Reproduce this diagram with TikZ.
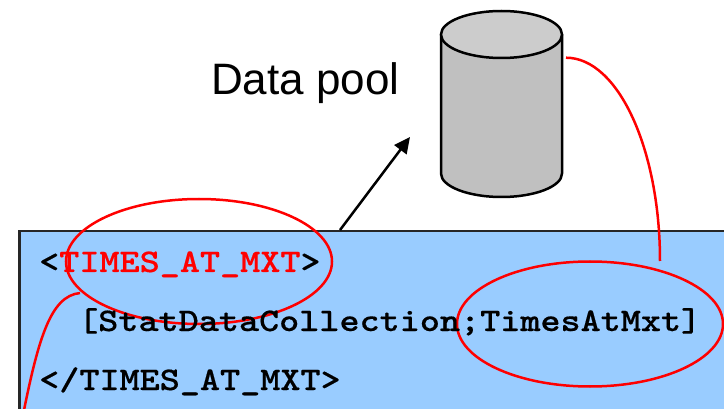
\documentclass[tikz,border=0pt]{standalone}
\usepackage{fontspec}
\usetikzlibrary{shapes.geometric,arrows.meta}
\newfontfamily\arialfont{Liberation Sans}
\newfontfamily\courfont[FakeStretch=1.16,BoldFeatures={FakeBold=0.35}]{Latin Modern Mono Light}
\definecolor{boxblue}{HTML}{99CCFF}
\definecolor{cylbody}{HTML}{C0C0C0}
\definecolor{cyltop}{HTML}{CCCCCC}
\definecolor{redline}{HTML}{FF0000}
\tikzset{
  panel/.style={draw=black!85,line width=2.5pt,fill=boxblue,rectangle,anchor=north west,inner sep=0pt,minimum width=760pt,minimum height=220pt},
  code/.style={anchor=base west,inner sep=0pt,font=\courfont\bfseries\fontsize{33pt}{33pt}\selectfont},
  ring/.style={draw=redline,line width=2.5pt,ellipse,inner sep=0pt,minimum width=266pt,minimum height=125pt},
  link/.style={draw=redline,line width=2.5pt},
  flow/.style={draw=black,line width=2.5pt,-{Triangle[length=16pt,width=15pt]},shorten >=0pt},
  title/.style={anchor=base west,inner sep=0pt,font=\arialfont\fontsize{44pt}{44pt}\selectfont}
}
\begin{document}
\begin{tikzpicture}[x=1pt,y=-1pt]
\useasboundingbox (0,0) rectangle (724,409);
\clip (0,0) rectangle (724,409);
\fill[white] (0,0) rectangle (724,409);
% cylinder
\draw[fill=cylbody,line width=2.5pt,line join=round] (441,34.5) -- (441,173.5) arc[start angle=180,end angle=0,x radius=60.5,y radius=23.5] -- (562,34.5);
\draw[fill=cyltop,line width=2.5pt] (501.5,34.5) ellipse[x radius=60.5,y radius=23.5];
\node[title] (pool) at (211,95) {Data pool};
% panel
\node[panel] (panel) at (18,230) {};
\coordinate (panelexit) at (340,230);
\coordinate (arrowtip) at (410,137);
\draw[flow] (panelexit) -- (arrowtip);
% rings
\node[ring] (ringa) at (199,261.5) {};
\node[ring] (ringb) at (590,324) {};
% text
\node[code] (l1a) at (39,272) {<\textcolor{redline}{TIMES\_AT\_MXT}>};
\node[code] (l2) at (78,331) {[StatDataCollection;TimesAtMxt]};
\node[code] (l3) at (39,390) {</TIMES\_AT\_MXT>};
% links
\coordinate (cylout) at (566,57.7);
\coordinate (ringbtop) at (660,261);
\draw[link] (cylout) .. controls (618,57.7) and (660,149) .. (ringbtop);
\coordinate (ringaout) at (80,293);
\coordinate (offpage) at (22,420);
\draw[link] (ringaout) .. controls (50,296) and (38,340) .. (offpage);
\end{tikzpicture}
\end{document}
